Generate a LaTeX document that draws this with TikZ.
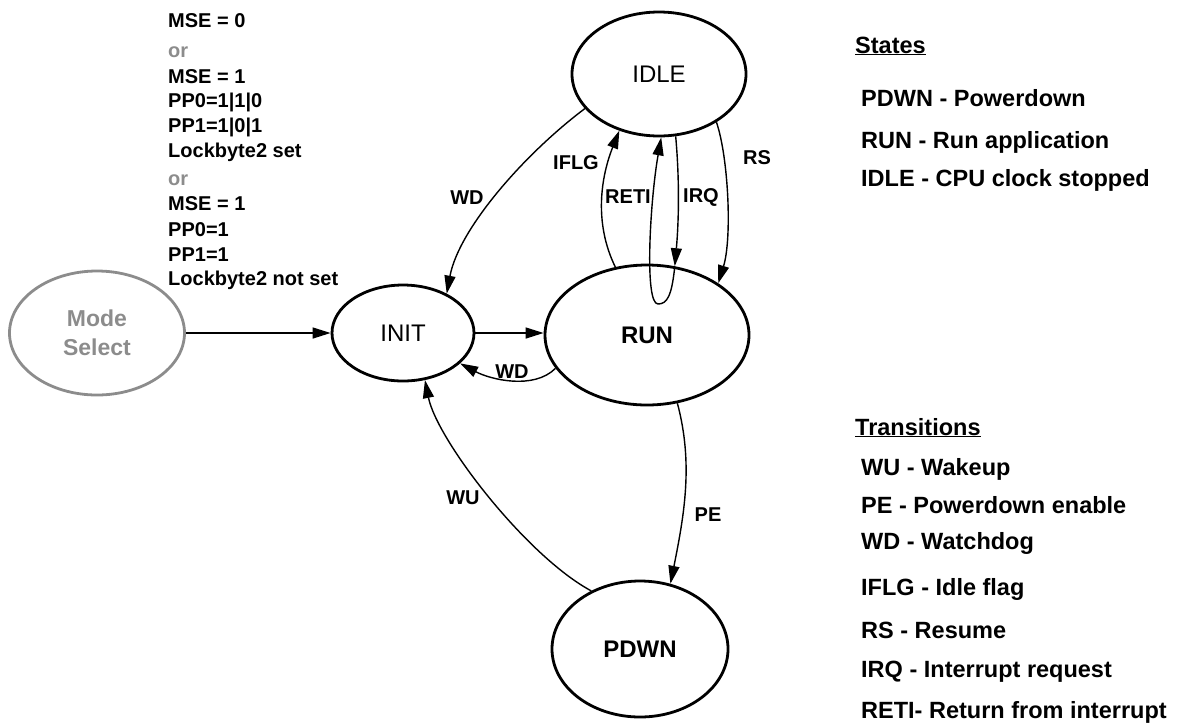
\documentclass[tikz,border=0pt]{standalone}
\usepackage{fontspec}
\setmainfont{Liberation Sans}
\usetikzlibrary{arrows.meta,shapes.geometric}
\definecolor{msgray}{RGB}{140,140,140}
\begin{document}
\begin{tikzpicture}[x=1pt,y=-1pt,
  state/.style={draw, ellipse, line width=2.8pt, inner sep=0pt, font=\fontsize{24}{28}\selectfont},
  boldstate/.style={state, font=\bfseries\fontsize{24}{28}\selectfont},
  conn/.style={line width=1.4pt, -{Triangle[length=18pt,width=11pt]}},
  lbl/.style={inner sep=0pt, font=\bfseries\fontsize{20}{24}\selectfont},
  cond/.style={anchor=base west, inner sep=0pt, font=\bfseries\fontsize{20}{24}\selectfont},
  condor/.style={cond, text=msgray},
  leg/.style={anchor=base west, inner sep=0pt, font=\bfseries\fontsize{23.5}{28}\selectfont}
]
\useasboundingbox (0,0) rectangle (1177,724);

% states
\node[state, minimum width=174pt, minimum height=124pt] (idle) at (659,74) {IDLE};
\node[state, minimum width=142pt, minimum height=96pt] (init) at (403,333) {INIT};
\node[boldstate, minimum width=204pt, minimum height=140pt] (run) at (647,335) {RUN};
\node[boldstate, minimum width=176pt, minimum height=136pt] (pdwn) at (640,649) {PDWN};
\node[draw=msgray, ellipse, line width=2.8pt, text=msgray, inner sep=0pt,
      minimum width=175pt, minimum height=124pt, align=center,
      font=\bfseries\fontsize{23}{29}\selectfont] (mode) at (97,333) {Mode\\Select};

% connectors
\draw[conn] (mode.east) -- (init.west);
\draw[conn] (init.east) -- (init.east -| run.west);
\draw[conn] (run.-160) .. controls +(-22,22) and +(30,16) .. (init.-28);
\draw[conn] (idle.-155) .. controls +(-60,45) and +(12,-65) .. (init.42);
\draw[conn] (run.115) .. controls +(-22,-45) and +(-18,45) .. (idle.-125);
\draw[conn] (idle.-75) .. controls +(4,45) and +(4,-45) .. (run.68);
\coordinate (retib) at (658,304);
\draw[conn] (run.68) .. controls +(-3,30) and +(9,0) .. (retib) .. controls +(-14,0) and +(-11,62) .. (idle.-88);
\draw[conn] (idle.-40) .. controls +(12,35) and +(14,-45) .. (run.36);
\draw[conn] (run.-66) .. controls +(16,60) and +(14,-70) .. (pdwn.65);
\draw[conn] (pdwn.130) .. controls +(-65,-35) and +(12,60) .. (init.-65);

% transition labels
\node[lbl] (lwd1) at (467,198) {WD};
\node[lbl] (liflg) at (576,163) {IFLG};
\node[lbl] (lreti) at (628,197) {RETI};
\node[lbl] (lirq) at (701,197) {IRQ};
\node[lbl] (lrs) at (757,158) {RS};
\node[lbl] (lwd2) at (512,372) {WD};
\node[lbl] (lwu) at (463,498) {WU};
\node[lbl] (lpe) at (708,515) {PE};

% mode select conditions
\node[cond] (c1) at (168,27) {MSE = 0};
\node[condor] (c2) at (168,57) {or};
\node[cond] (c3) at (168,83) {MSE = 1};
\node[cond] (c4) at (168,107) {PP0=1|1|0};
\node[cond] (c5) at (168,132) {PP1=1|0|1};
\node[cond] (c6) at (168,157) {Lockbyte2 set};
\node[condor] (c7) at (168,185) {or};
\node[cond] (c8) at (168,210) {MSE = 1};
\node[cond] (c9) at (168,236) {PP0=1};
\node[cond] (c10) at (168,261) {PP1=1};
\node[cond] (c11) at (168,285) {Lockbyte2 not set};

% legend: states
\node[leg] (hstates) at (855,53) {\underline{States}};
\node[leg] (s1) at (861,106) {PDWN - Powerdown};
\node[leg] (s2) at (861,148) {RUN - Run application};
\node[leg] (s3) at (861,186) {IDLE - CPU clock stopped};

% legend: transitions
\node[leg] (htrans) at (855,435) {\underline{Transitions}};
\node[leg] (t1) at (861,475) {WU - Wakeup};
\node[leg] (t2) at (861,513) {PE - Powerdown enable};
\node[leg] (t3) at (861,549) {WD - Watchdog};
\node[leg] (t4) at (861,595) {IFLG - Idle flag};
\node[leg] (t5) at (861,638) {RS - Resume};
\node[leg] (t6) at (861,677) {IRQ - Interrupt request};
\node[leg] (t7) at (861,718) {RETI- Return from interrupt};
\end{tikzpicture}
\end{document}
